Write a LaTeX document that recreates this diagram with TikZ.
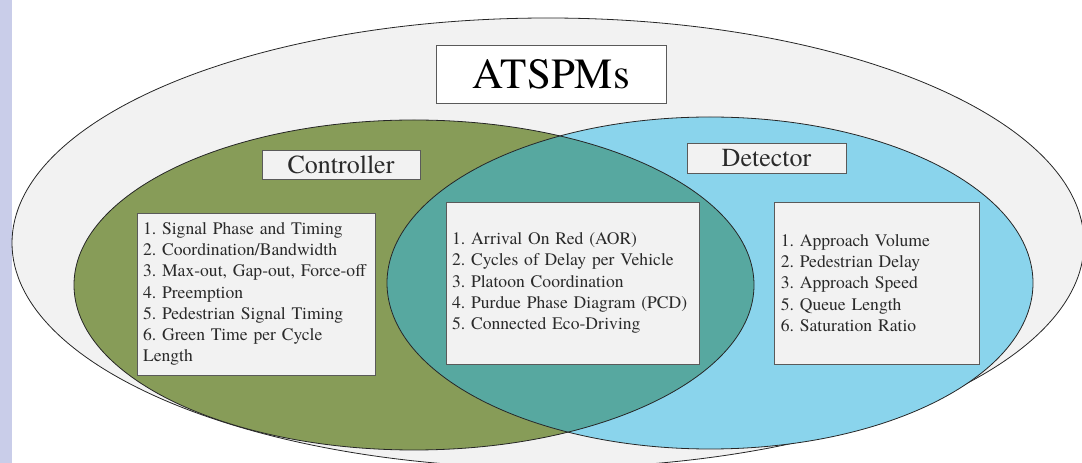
\documentclass[tikz,border=0pt]{standalone}
\usepackage{fontspec}
\setmainfont{texgyretermes-regular.otf}[BoldFont=texgyretermes-bold.otf]
\usetikzlibrary{positioning}
\definecolor{strip}{HTML}{C9CDE9}
\definecolor{outer}{HTML}{F2F2F2}
\definecolor{ctrl}{HTML}{879C58}
\definecolor{det}{HTML}{8AD4EC}
\definecolor{both}{HTML}{57A8A0}
\definecolor{boxline}{HTML}{5A5A5A}
\definecolor{txt}{HTML}{2A2A2A}
\tikzset{set/.style={draw=black!85, line width=0.8pt}}
\tikzset{lbl/.style={draw=boxline, fill=outer, line width=0.8pt, inner sep=0pt, text=txt}}
\tikzstyle{lst}=[lbl, align=left, inner sep=6pt, minimum height=162pt, font=\fontsize{17.6}{21.2}\selectfont]

\begin{document}
\frenchspacing
\begin{tikzpicture}[x=1pt, y=1pt, node distance=75pt]
\useasboundingbox (0,0) rectangle (1082,463);
\clip (0,0) rectangle (1082,463);
\fill[strip] (0,0) rectangle (12,463);
% the three sets
\draw[set, fill=outer] (548,220) ellipse [x radius=536pt, y radius=225pt];
\fill[ctrl] (414,178) ellipse [x radius=340pt, y radius=165pt];
\fill[det] (710,180) ellipse [x radius=323pt, y radius=166pt];
\begin{scope}
\clip (414,178) ellipse [x radius=340pt, y radius=165pt];
\fill[both] (710,180) ellipse [x radius=323pt, y radius=166pt];
\end{scope}
\draw[set] (414,178) ellipse [x radius=340pt, y radius=165pt];
\draw[set] (710,180) ellipse [x radius=323pt, y radius=166pt];

% titles
\node[lbl, fill=white, text=black, minimum width=230pt, minimum height=58pt, font=\fontsize{43}{50}\selectfont] (atspms) at (551,389) {ATSPMs};
\node[lbl, minimum width=158pt, minimum height=29pt, font=\fontsize{26}{30}\selectfont] (ctrlT) at (341,298.5) {Controller};
\node[lbl, minimum width=159pt, minimum height=30pt, font=\fontsize{26}{30}\selectfont] (detT) at (766.5,305) {Detector};

% lists
\node[lst, text width=226pt] (ctrlL) at (256,169) {1. Signal Phase and Timing\\2. Coordination/Bandwidth\\3. Max-out, Gap-out, Force-off\\4. Preemption\\5. Pedestrian Signal Timing\\6. Green Time per Cycle\\Length};
\node[lst, text width=241pt] (bothL) at (572.5,180) {1. Arrival On Red (AOR)\\2. Cycles of Delay per Vehicle\\3. Platoon Coordination\\4. Purdue Phase Diagram (PCD)\\5. Connected Eco-Driving};
\node[lst, text width=193pt, right=75pt of bothL] (detL) {1. Approach Volume\\2. Pedestrian Delay\\3. Approach Speed\\5. Queue Length\\6. Saturation Ratio};
\end{tikzpicture}
\end{document}
